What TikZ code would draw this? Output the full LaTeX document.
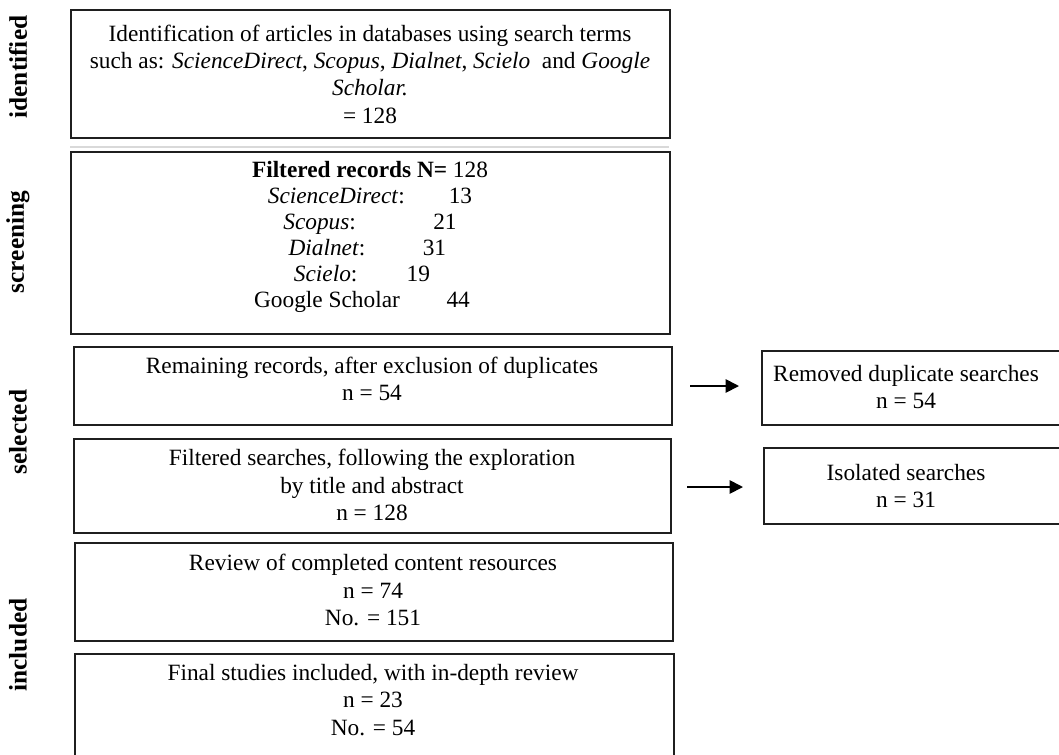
\documentclass[tikz,border=0pt]{standalone}
\usepackage{fontspec}
\setmainfont{Liberation Serif}
\usetikzlibrary{arrows.meta}
\begin{document}
\begin{tikzpicture}[x=0.75pt,y=-0.75pt,
  sz/.style 2 args={minimum width=#1*0.75pt, minimum height=#2*0.75pt},
  box/.style={draw=black!88, line width=1.3pt, inner sep=0pt, anchor=north west},
  txt/.style={align=center, inner sep=0pt, font=\fontsize{17.5}{20.5}\selectfont},
  phase/.style={rotate=90, inner sep=0pt, font=\fontsize{19}{20}\selectfont\bfseries},
  arr/.style={line width=1.3pt, -{Triangle[length=10pt,width=10pt]}}
]
\useasboundingbox (0,0) rectangle (1059,754);
\clip (0,0) rectangle (1059,754);
\fill[white] (0,0) rectangle (1059,754);

% phase labels
\node[phase] (pid) at (18,67) {identified};
\node[phase] (psc) at (18,242) {screening};
\node[phase] (pse) at (18,432) {selected};
\node[phase] (pin) at (18,645) {included};

% boxes
\node[box, sz={599}{128}] (b1) at (70,9) {};
\node[box, sz={599}{182}] (b2) at (70,151) {};
\node[box, sz={598}{78}]  (b3) at (73,346) {};
\node[box, sz={597}{94}]  (b4) at (73,438) {};
\node[box, sz={598}{98}]  (b5) at (74,542) {};
\node[box, sz={599}{115}] (b6) at (74,653) {};
\node[box, sz={310}{74}]  (r1) at (761,350) {};
\node[box, sz={310}{76}]  (r2) at (763,447) {};

% faint line under first box
\coordinate (g1) at (70,147);
\coordinate (g2) at (669,147);
\draw[black!15, line width=0.8pt] (g1) -- (g2);

% texts
\node[txt] (t1) at (370,74) {Identification of articles in databases using search terms\\
such as: \textit{ScienceDirect}, \textit{Scopus}, \textit{Dialnet}, \textit{Scielo}\ \ and \textit{Google}\\
\textit{Scholar.}\\
= 128};
\node[txt, font=\fontsize{17.5}{19.4}\selectfont] (t2) at (370,237) {\textbf{Filtered records N=} 128\\
\textit{ScienceDirect}:\hspace{33pt}13\\
\textit{Scopus}:\hspace{58pt}21\\
\hspace{-4pt}\textit{Dialnet}:\hspace{43pt}31\\
\hspace{-12pt}\textit{Scielo}:\hspace{37pt}19\\
\hspace{-12pt}Google Scholar\hspace{35pt}44};
\node[txt] (t3) at (372,379) {Remaining records, after exclusion of duplicates\\ n = 54};
\node[txt] (t4) at (372,485) {Filtered searches, following the exploration\\ by title and abstract\\ n = 128};
\node[txt] (t5) at (373,590) {Review of completed content resources\\ n = 74\\ No. = 151};
\node[txt] (t6) at (373,700) {Final studies included, with in-depth review\\ n = 23\\ No. = 54};
\node[txt] (tr1) at (906,387) {Removed duplicate searches\\ n = 54};
\node[txt] (tr2) at (906,486) {Isolated searches\\ n = 31};

% arrows
\coordinate (a1s) at (690,386);
\coordinate (a1e) at (739,386);
\coordinate (a2s) at (687,487);
\coordinate (a2e) at (743,487);
\draw[arr] (a1s) -- (a1e);
\draw[arr] (a2s) -- (a2e);
\end{tikzpicture}
\end{document}
